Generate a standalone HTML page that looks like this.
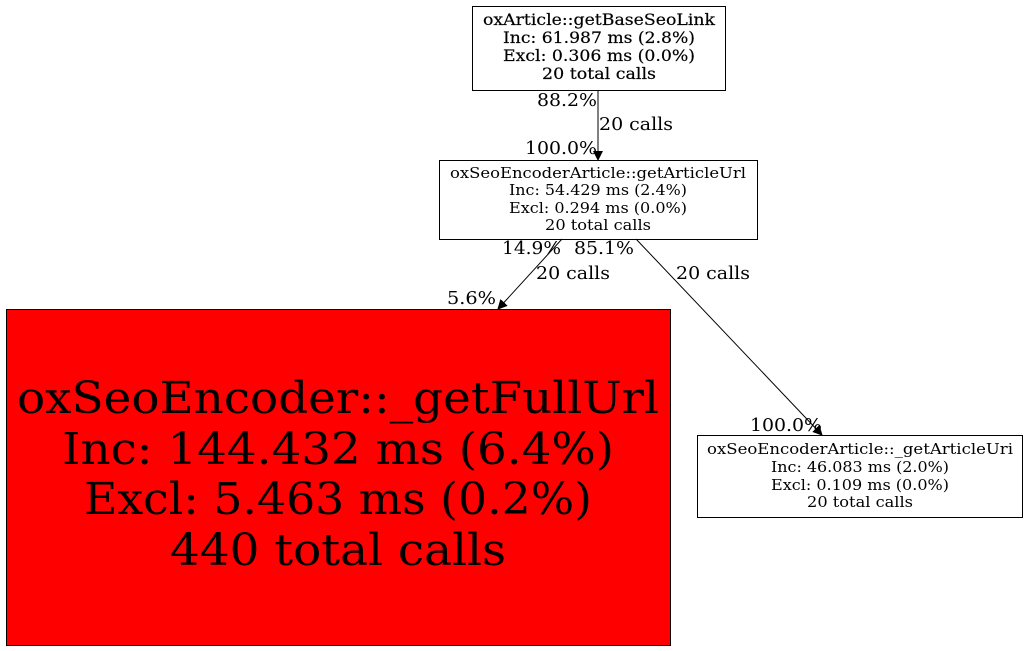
<!DOCTYPE html>
<html><head><meta charset="utf-8"><style>
html,body{margin:0;padding:0;background:#fff;}
svg{display:block;font-family:"DejaVu Serif","Liberation Serif",serif;}
</style></head><body>
<svg width="1028" height="651" viewBox="0 0 1028 651" xmlns="http://www.w3.org/2000/svg">
<defs><marker id="a" markerWidth="10" markerHeight="10" refX="9" refY="5" orient="auto" markerUnits="userSpaceOnUse"><path d="M0,0 L10,5 L0,10 z" fill="#000"/></marker></defs>
<rect x="472.5" y="6.5" width="253" height="84" fill="#fff" stroke="#000"/>
<g font-size="16" text-anchor="middle" stroke="#000" stroke-width="0.2">
<text x="599" y="25" textLength="232" lengthAdjust="spacingAndGlyphs">oxArticle::getBaseSeoLink</text>
<text x="599" y="43" textLength="192" lengthAdjust="spacingAndGlyphs">Inc: 61.987 ms (2.8%)</text>
<text x="599" y="61" textLength="192" lengthAdjust="spacingAndGlyphs">Excl: 0.306 ms (0.0%)</text>
<text x="599" y="79" textLength="114" lengthAdjust="spacingAndGlyphs">20 total calls</text>
</g>
<line x1="598" y1="90" x2="598" y2="160" stroke="#000" marker-end="url(#a)"/>
<g font-size="18" lengthAdjust="spacingAndGlyphs">
<text x="537" y="106" textLength="60" lengthAdjust="spacingAndGlyphs">88.2%</text>
<text x="599" y="130" textLength="74" lengthAdjust="spacingAndGlyphs">20 calls</text>
<text x="525" y="154" textLength="72" lengthAdjust="spacingAndGlyphs">100.0%</text>
<text x="502" y="254" textLength="59" lengthAdjust="spacingAndGlyphs">14.9%</text>
<text x="574" y="254" textLength="60" lengthAdjust="spacingAndGlyphs">85.1%</text>
<text x="536" y="279" textLength="74" lengthAdjust="spacingAndGlyphs">20 calls</text>
<text x="447" y="304" textLength="49" lengthAdjust="spacingAndGlyphs">5.6%</text>
<text x="676" y="279" textLength="74" lengthAdjust="spacingAndGlyphs">20 calls</text>
<text x="750" y="431" textLength="72" lengthAdjust="spacingAndGlyphs">100.0%</text>
</g>
<rect x="439.5" y="160.5" width="318" height="79" fill="#fff" stroke="#000"/>
<g font-size="15" text-anchor="middle">
<text x="598" y="178" textLength="296" lengthAdjust="spacingAndGlyphs">oxSeoEncoderArticle::getArticleUrl</text>
<text x="598" y="195" textLength="178" lengthAdjust="spacingAndGlyphs">Inc: 54.429 ms (2.4%)</text>
<text x="598" y="213" textLength="178" lengthAdjust="spacingAndGlyphs">Excl: 0.294 ms (0.0%)</text>
<text x="598" y="230" textLength="106" lengthAdjust="spacingAndGlyphs">20 total calls</text>
</g>
<line x1="562" y1="239" x2="498" y2="309" stroke="#000" marker-end="url(#a)"/>
<line x1="636" y1="239" x2="822" y2="435" stroke="#000" marker-end="url(#a)"/>
<rect x="6.5" y="309.5" width="664" height="336" fill="#ff0000" stroke="#000"/>
<g font-size="44" text-anchor="middle">
<text x="338" y="413" textLength="642" lengthAdjust="spacingAndGlyphs">oxSeoEncoder::_getFullUrl</text>
<text x="338" y="464" textLength="552" lengthAdjust="spacingAndGlyphs">Inc: 144.432 ms (6.4%)</text>
<text x="338" y="514" textLength="508" lengthAdjust="spacingAndGlyphs">Excl: 5.463 ms (0.2%)</text>
<text x="338" y="565" textLength="336" lengthAdjust="spacingAndGlyphs">440 total calls</text>
</g>
<rect x="697.5" y="435.5" width="325" height="82" fill="#fff" stroke="#000"/>
<g font-size="15" text-anchor="middle">
<text x="860" y="454" textLength="306" lengthAdjust="spacingAndGlyphs">oxSeoEncoderArticle::_getArticleUri</text>
<text x="860" y="472" textLength="178" lengthAdjust="spacingAndGlyphs">Inc: 46.083 ms (2.0%)</text>
<text x="860" y="490" textLength="178" lengthAdjust="spacingAndGlyphs">Excl: 0.109 ms (0.0%)</text>
<text x="860" y="507" textLength="106" lengthAdjust="spacingAndGlyphs">20 total calls</text>
</g>
</svg>
</body></html>
